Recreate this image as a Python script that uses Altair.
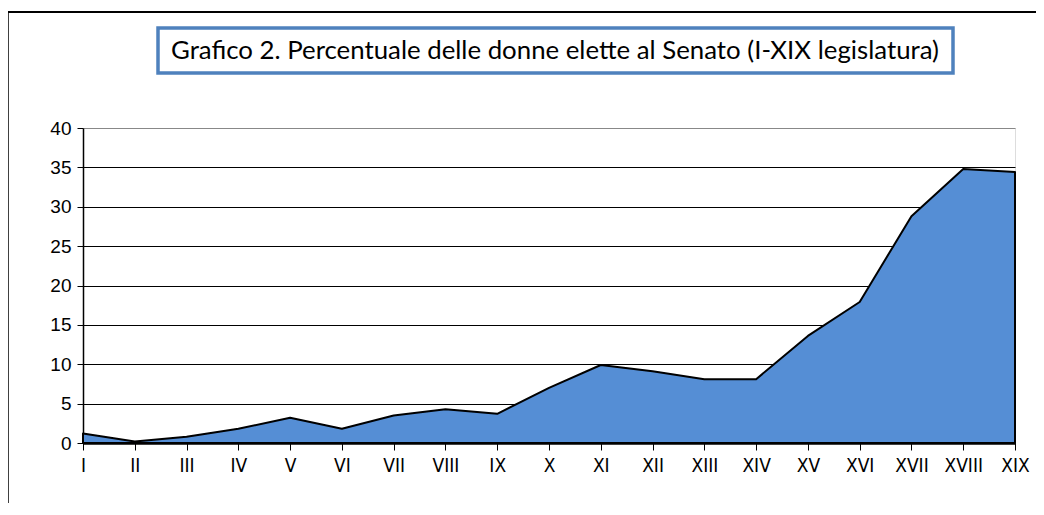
import altair as alt
import pandas as pd

legislature = ["I", "II", "III", "IV", "V", "VI", "VII", "VIII", "IX", "X",
               "XI", "XII", "XIII", "XIV", "XV", "XVI", "XVII", "XVIII", "XIX"]
percentuale = [1.2, 0.2, 0.8, 1.8, 3.2, 1.8, 3.5, 4.3, 3.7, 7.0,
               9.9, 9.1, 8.1, 8.1, 13.6, 17.9, 28.8, 34.8, 34.4]
y_ticks = [0, 5, 10, 15, 20, 25, 30, 35, 40]
titolo = "Grafico 2. Percentuale delle donne elette al Senato (I-XIX legislatura)"

df = pd.DataFrame({"leg": legislature, "pct": percentuale})

x_enc = alt.X("leg:N", sort=legislature,
              scale=alt.Scale(type="point", padding=0),
              axis=alt.Axis(title=None, labelAngle=0,
                            labelFont="'DejaVu Sans Condensed', 'Liberation Sans'",
                            labelFontSize=19, labelColor="black", labelPadding=6,
                            tickColor="black", tickSize=7, tickWidth=1,
                            domainColor="black", domainWidth=2.5, grid=False))
y_enc = alt.Y("pct:Q", scale=alt.Scale(domain=[0, 40], nice=False),
              axis=alt.Axis(title=None, values=y_ticks, labelFont="Liberation Sans",
                            labelFontSize=19, labelColor="black", labelPadding=6,
                            tickColor="black", tickSize=6, tickWidth=1,
                            domainColor="black", domainWidth=1.5,
                            grid=True,
                            gridColor={"condition": {"test": "datum.value === 40", "value": "#888888"},
                                       "value": "black"},
                            gridWidth=1.2))

area = alt.Chart(df).mark_area(color="#558ed5", stroke="black", strokeWidth=2,
                               strokeJoin="round").encode(x=x_enc, y=y_enc)

deco = pd.DataFrame({"t": [titolo]})
box = alt.Chart(deco).mark_rect(fill="white", stroke="#4f81bd", strokeWidth=3.5).encode(
    x=alt.value(75), x2=alt.value(870), y=alt.value(-100), y2=alt.value(-55))
text = alt.Chart(deco).mark_text(font="Lato", fontSize=25.8, color="black",
                                 align="center", baseline="middle").encode(
    text="t:N", x=alt.value(472), y=alt.value(-77))
frame_left = alt.Chart(deco).mark_rule(color="black", strokeWidth=1.5).encode(
    x=alt.value(-75), y=alt.value(-116), y2=alt.value(400))
frame_top = alt.Chart(deco).mark_rule(color="black", strokeWidth=2).encode(
    x=alt.value(-75), x2=alt.value(960), y=alt.value(-116))

chart = alt.layer(area, frame_left, frame_top, box, text).properties(
    width=932, height=315,
    autosize=alt.AutoSizeParams(type="none"),
    padding={"left": 75, "top": 120, "right": 21, "bottom": 60},
).configure_view(fill="#f2f2f2", stroke="#888888", strokeWidth=1.5
).configure(background="white")

chart.save("out.html", embed_options={"renderer": "svg", "actions": False})
